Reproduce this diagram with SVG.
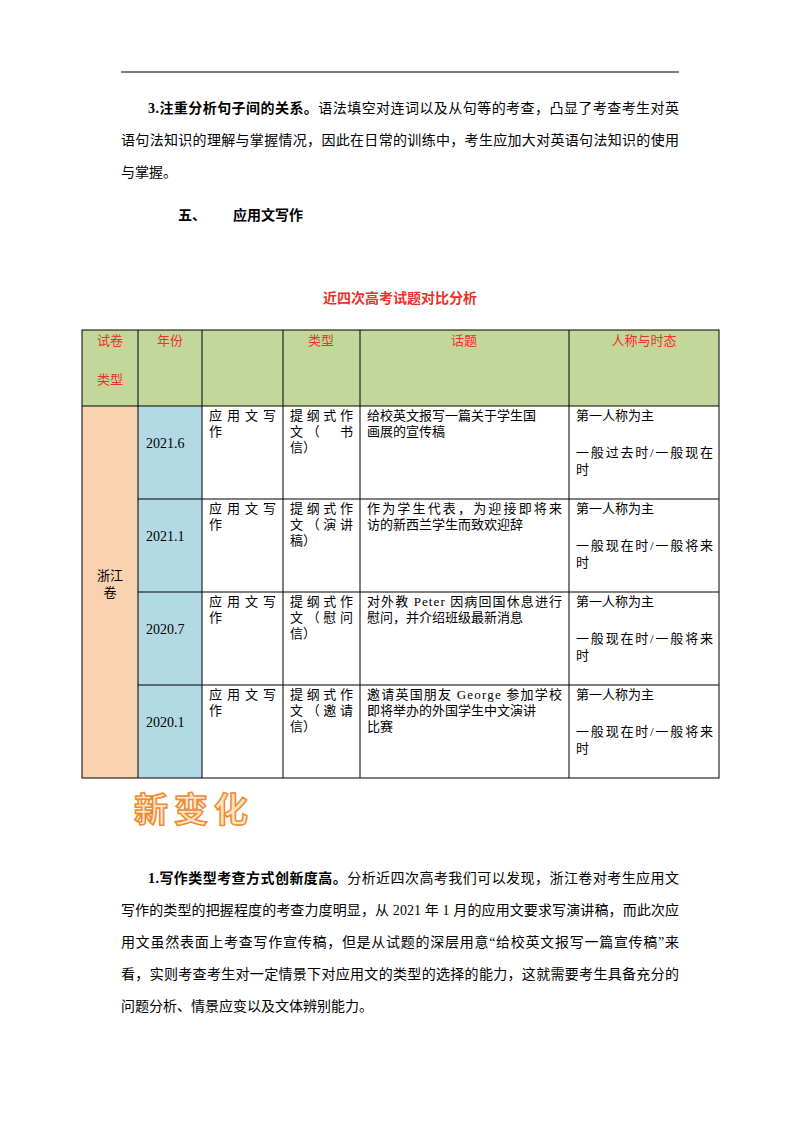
<svg xmlns="http://www.w3.org/2000/svg" width="800" height="1132" viewBox="0 0 800 1132">
<style>
text{font-family:"Liberation Serif","Noto Sans CJK SC",serif;font-size:14px;fill:#000}
.b{font-weight:bold}
.r{fill:#e8322a;font-size:13px}
.c{font-size:13px}
.y{font-size:14px}
.g{stroke:#000;stroke-width:1;fill:none}
</style>
<rect width="800" height="1132" fill="#fff"/>
<line x1="121" y1="72" x2="679" y2="72" stroke="#000" stroke-width="1.2"/>
<g id="para1">
<text x="148" y="113" textLength="531"><tspan class="b">3.注重分析句子间的关系。</tspan>语法填空对连词以及从句等的考查，凸显了考查考生对英</text>
<text x="121" y="145" textLength="558">语句法知识的理解与掌握情况，因此在日常的训练中，考生应加大对英语句法知识的使用</text>
<text x="121" y="177">与掌握。</text>
</g>
<g id="heading"><text x="178" y="220" class="b">五、</text><text x="233" y="220" class="b">应用文写作</text></g>
<text x="400" y="303" text-anchor="middle" class="b" style="fill:#e8322a">近四次高考试题对比分析</text>
<g id="table">
<rect x="82" y="330" width="637" height="76" fill="#c3d79b"/>
<rect x="82" y="406" width="56" height="372" fill="#f9d2b0"/>
<rect x="138" y="406" width="64" height="372" fill="#b3d9e4"/>
<rect x="82" y="330" width="637" height="448" class="g"/>
<path class="g" d="M138 330V778M202 330V778M283 330V778M360 330V778M569 330V778M82 406H719M138 499H719M138 592H719M138 685H719"/>
<text class="r" x="110" y="345" text-anchor="middle">试卷</text>
<text class="r" x="110" y="384" text-anchor="middle">类型</text>
<text class="r" x="170" y="345" text-anchor="middle">年份</text>
<text class="r" x="321" y="345" text-anchor="middle">类型</text>
<text class="r" x="464" y="345" text-anchor="middle">话题</text>
<text class="r" x="644" y="345" text-anchor="middle">人称与时态</text>
<text class="c" x="110" y="580" text-anchor="middle">浙江</text>
<text class="c" x="110" y="597" text-anchor="middle">卷</text>
<text class="y" x="146" y="448">2021.6</text>
<text class="y" x="146" y="541">2021.1</text>
<text class="y" x="146" y="634">2020.7</text>
<text class="y" x="146" y="727">2020.1</text>
<g>
<text class="c" x="209" y="420" textLength="67">应用文写</text><text class="c" x="209" y="436">作</text>
<text class="c" x="209" y="513" textLength="67">应用文写</text><text class="c" x="209" y="529">作</text>
<text class="c" x="209" y="606" textLength="67">应用文写</text><text class="c" x="209" y="622">作</text>
<text class="c" x="209" y="699" textLength="67">应用文写</text><text class="c" x="209" y="715">作</text>
<text class="c" x="290" y="420" textLength="63">提纲式作</text><text class="c" x="290" y="436" textLength="63">文（　书</text><text class="c" x="290" y="452">信）</text>
<text class="c" x="290" y="513" textLength="63">提纲式作</text><text class="c" x="290" y="529" textLength="63">文（演讲</text><text class="c" x="290" y="545">稿）</text>
<text class="c" x="290" y="606" textLength="63">提纲式作</text><text class="c" x="290" y="622" textLength="63">文（慰问</text><text class="c" x="290" y="638">信）</text>
<text class="c" x="290" y="699" textLength="63">提纲式作</text><text class="c" x="290" y="715" textLength="63">文（邀请</text><text class="c" x="290" y="731">信）</text>
<text class="c" x="367" y="420">给校英文报写一篇关于学生国</text><text class="c" x="367" y="436">画展的宣传稿</text>
<text class="c" x="367" y="513" textLength="195">作为学生代表，为迎接即将来</text><text class="c" x="367" y="529">访的新西兰学生而致欢迎辞</text>
<text class="c" x="367" y="606" textLength="195">对外教 Peter 因病回国休息进行</text><text class="c" x="367" y="622">慰问，并介绍班级最新消息</text>
<text class="c" x="367" y="699" textLength="195">邀请英国朋友 George 参加学校</text><text class="c" x="367" y="715">即将举办的外国学生中文演讲</text><text class="c" x="367" y="731">比赛</text>
<text class="c" x="576" y="420">第一人称为主</text><text class="c" x="576" y="457" textLength="137">一般过去时/一般现在</text><text class="c" x="576" y="474">时</text>
<text class="c" x="576" y="513">第一人称为主</text><text class="c" x="576" y="550" textLength="137">一般现在时/一般将来</text><text class="c" x="576" y="567">时</text>
<text class="c" x="576" y="606">第一人称为主</text><text class="c" x="576" y="643" textLength="137">一般现在时/一般将来</text><text class="c" x="576" y="660">时</text>
<text class="c" x="576" y="699">第一人称为主</text><text class="c" x="576" y="736" textLength="137">一般现在时/一般将来</text><text class="c" x="576" y="753">时</text>
</g>
</g>
<text x="134" y="822" style="font-size:34px;font-weight:bold;fill:#fbe3c8;stroke:#f08a2c;stroke-width:1.5" letter-spacing="6">新变化</text>
<g id="para2">
<text x="148" y="883" textLength="531"><tspan class="b">1.写作类型考查方式创新度高。</tspan>分析近四次高考我们可以发现，浙江卷对考生应用文</text>
<text x="121" y="915" textLength="558">写作的类型的把握程度的考查力度明显，从 2021 年 1 月的应用文要求写演讲稿，而此次应</text>
<text x="121" y="947" textLength="558">用文虽然表面上考查写作宣传稿，但是从试题的深层用意“给校英文报写一篇宣传稿”来</text>
<text x="121" y="979" textLength="558">看，实则考查考生对一定情景下对应用文的类型的选择的能力，这就需要考生具备充分的</text>
<text x="121" y="1011">问题分析、情景应变以及文体辨别能力。</text>
</g>
</svg>
